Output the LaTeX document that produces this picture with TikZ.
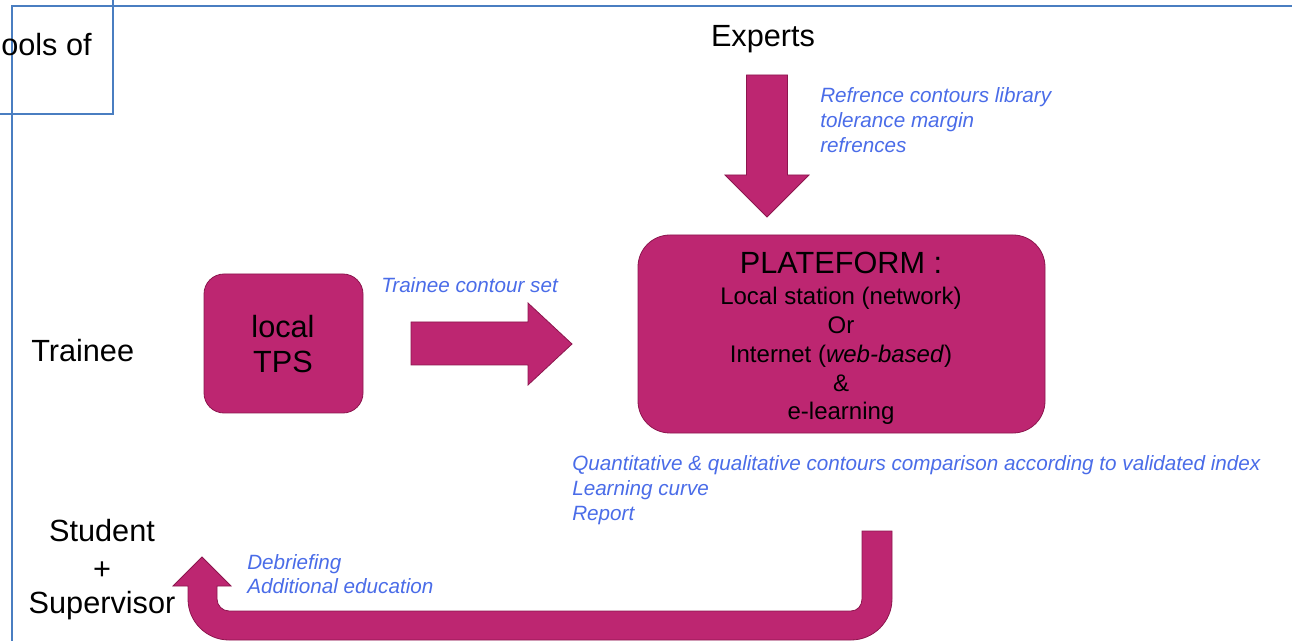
\documentclass[tikz,border=0pt]{standalone}
\usepackage{fontspec}
\setmainfont{Liberation Sans}

\definecolor{boxFill}{RGB}{189,38,113}
\definecolor{boxEdge}{RGB}{140,22,78}
\definecolor{frameBlue}{RGB}{74,126,193}
\definecolor{noteBlue}{RGB}{74,108,232}

\begin{document}
\begin{tikzpicture}[x=0.75pt, y=-0.75pt,
    boxStyle/.style={rectangle, draw=boxEdge, fill=boxFill, line width=0.6pt, inner sep=0pt},
    arrowStyle/.style={fill=boxFill, draw=boxEdge, line width=0.6pt},
    labelStyle/.style={font=\fontsize{23}{26}\selectfont, anchor=base, inner sep=0pt},
    innerStyle/.style={font=\fontsize{18}{21}\selectfont, anchor=base, inner sep=0pt},
    noteStyle/.style={font=\fontsize{15.5}{18}\selectfont\itshape, text=noteBlue, anchor=base west, inner sep=0pt},
    frameStyle/.style={draw=frameBlue, line width=1pt}]
    \useasboundingbox (0,0) rectangle (1292,641);

    % frame lines
    \draw[frameStyle] (12,641) -- (12,6) -- (1292,6);
    \draw[frameStyle] (0,114) -- (113,114) -- (113,0);
    \node[labelStyle, anchor=base west] (oolsOf) at (1,56) {ools of};

    % boxes
    \node[boxStyle, rounded corners=15pt, minimum width=119.25pt, minimum height=104.25pt] (tps) at (283.5,343.5) {};
    \node[boxStyle, rounded corners=24pt, minimum width=305.25pt, minimum height=148.5pt] (plat) at (841.5,334) {};

    \node[labelStyle] (tps_0) at (283,338) {local};
    \node[labelStyle] (tps_1) at (283,373) {TPS};

    \node[labelStyle] (plat_0) at (841,274) {PLATEFORM :};
    \node[innerStyle] (plat_1) at (841,305) {Local station (network)};
    \node[innerStyle] (plat_2) at (841,334) {Or};
    \node[innerStyle] (plat_3) at (841,363) {Internet (\textit{web-based})};
    \node[innerStyle] (plat_4) at (841,392) {\&};
    \node[innerStyle] (plat_5) at (841,420) {e-learning};

    % actors
    \node[labelStyle] (experts) at (763,47) {Experts};
    \node[labelStyle, anchor=base west] (trainee) at (31,362) {Trainee};
    \node[labelStyle] (student_0) at (102,541) {Student};
    \node[labelStyle] (student_1) at (102,579) {+};
    \node[labelStyle] (student_2) at (102,613) {Supervisor};

    % block arrows
    \draw[arrowStyle] (746.5,75) -- (787.5,75) -- (787.5,175) -- (809,175) -- (767,217)
        -- (725,175) -- (746.5,175) -- cycle;
    \draw[arrowStyle] (411,322) -- (528,322) -- (528,303) -- (572,344) -- (528,385)
        -- (528,365) -- (411,365) -- cycle;
    % u-turn back to the student
    \draw[arrowStyle] (862,531) -- (892,531) -- (892,599)
        .. controls (892,621.6) and (873.6,640) .. (851,640) -- (229,640)
        .. controls (206.4,640) and (188,621.6) .. (188,599) -- (188,586)
        -- (173,586) -- (202,557) -- (231,586) -- (217,586) -- (217,599)
        .. controls (217,605.6) and (222.4,611) .. (229,611) -- (851,611)
        .. controls (857.6,611) and (862,605.6) .. (862,599) -- cycle;

    % notes
    \node[noteStyle] (noteExp_0) at (820,103) {Refrence contours library};
    \node[noteStyle] (noteExp_1) at (820,128) {tolerance margin};
    \node[noteStyle] (noteExp_2) at (820,153) {refrences};

    \node[noteStyle] (noteSet) at (381,293) {Trainee contour set};

    \node[noteStyle] (notePlat_0) at (572,470) {Quantitative \& qualitative contours comparison according to validated index};
    \node[noteStyle] (notePlat_1) at (572,495) {Learning curve};
    \node[noteStyle] (notePlat_2) at (572,520) {Report};

    \node[noteStyle] (noteBack_0) at (247,569) {Debriefing};
    \node[noteStyle] (noteBack_1) at (247,593) {Additional education};
\end{tikzpicture}
\end{document}
